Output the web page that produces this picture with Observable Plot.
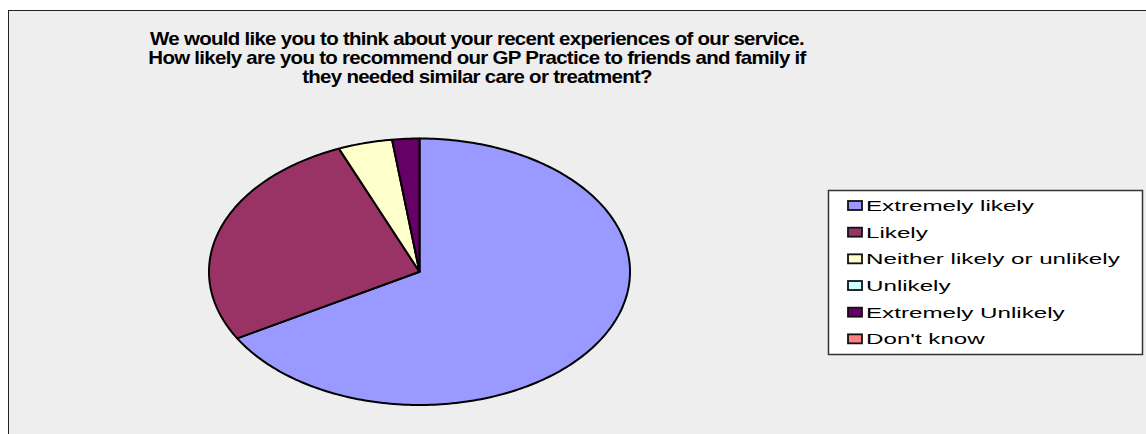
<!DOCTYPE html>
<html>
<head>
<meta charset="utf-8">
<script src="https://cdn.jsdelivr.net/npm/d3@7"></script>
<script src="https://cdn.jsdelivr.net/npm/@observablehq/plot@0.6"></script>
<style>
  html, body { margin: 0; padding: 0; background: #ffffff; }
  #wrap { position: relative; width: 1146px; height: 434px; overflow: hidden; background: #ffffff; }
  #frame { position: absolute; left: 8px; top: 10px; width: 1150px; height: 440px; border: 1.5px solid #222; background: #eeeeee; box-sizing: border-box; }
  #overlay { position: absolute; left: 0; top: 0; }
  #pie { position: absolute; left: 200px; top: 130px; }
  text { font-family: "Liberation Sans", Arial, sans-serif; }
</style>
</head>
<body>
<div id="wrap">
  <div id="frame"></div>
  <div id="pie"></div>
  <svg id="overlay" width="1146" height="434"></svg>
</div>
<script>
const titleLines = [
  "We would like you to think about your recent experiences of our service.",
  "How likely are you to recommend our GP Practice to friends and family if",
  "they needed similar care or treatment?"
];
const categories = ["Extremely likely", "Likely", "Neither likely or unlikely", "Unlikely", "Extremely Unlikely", "Don't know"];
const counts = [32, 13, 2, 0, 1, 0];
const colors = ["#9999FF", "#993366", "#FFFFCC", "#CCFFFF", "#660066", "#FF8080"];

// Build slice polygons (clockwise from 12 o'clock, like Excel)
const total = d3.sum(counts);
let acc = 0;
const slices = [];
categories.forEach((c, i) => {
  const a0 = acc / total * 2 * Math.PI;
  acc += counts[i];
  const a1 = acc / total * 2 * Math.PI;
  if (counts[i] <= 0) return;
  const n = Math.max(2, Math.ceil((a1 - a0) * 180 / Math.PI));
  const pts = [{x: 0, y: 0}];
  for (let k = 0; k <= n; k++) {
    const a = a0 + (a1 - a0) * k / n;
    pts.push({x: Math.sin(a), y: Math.cos(a)});
  }
  pts.push({x: 0, y: 0});
  slices.push({category: c, color: colors[i], points: pts});
});

const chart = Plot.plot({
  width: 440,
  height: 285,
  margin: 0,
  x: {domain: [-1, 1], range: [8.5, 429.5], axis: null},
  y: {domain: [-1, 1], range: [274.5, 8], axis: null},
  marks: slices.map(s => Plot.line(s.points, {
    x: "x", y: "y", fill: s.color, stroke: "#000", strokeWidth: 2, strokeLinejoin: "round"
  }))
});
chart.style.background = "transparent";
chart.style.overflow = "visible";
document.getElementById("pie").appendChild(chart);

// Title and legend
const svg = d3.select("#overlay");
const titleCx = 477, titleScale = 1.17;
titleLines.forEach((t, i) => {
  svg.append("text")
    .attr("transform", `translate(${titleCx},${44.5 + i * 19}) scale(${titleScale},1)`)
    .attr("text-anchor", "middle")
    .attr("font-size", 17.5)
    .attr("letter-spacing", -0.6)
    .attr("font-weight", "bold")
    .attr("fill", "#000")
    .text(t);
});

svg.append("rect")
  .attr("x", 828.5).attr("y", 190.5).attr("width", 314).attr("height", 164)
  .attr("fill", "#fff").attr("stroke", "#333").attr("stroke-width", 1.5);

categories.forEach((c, i) => {
  const cy = 205.5 + i * 26.67;
  svg.append("rect")
    .attr("x", 848).attr("y", cy - 4.5).attr("width", 14).attr("height", 9)
    .attr("fill", colors[i]).attr("stroke", "#111").attr("stroke-width", 1.8);
  svg.append("text")
    .attr("transform", `translate(866,${cy + 5.5}) scale(1.57,1)`)
    .attr("font-size", 15.4)
    .attr("fill", "#000")
    .text(c);
});
</script>
</body>
</html>
